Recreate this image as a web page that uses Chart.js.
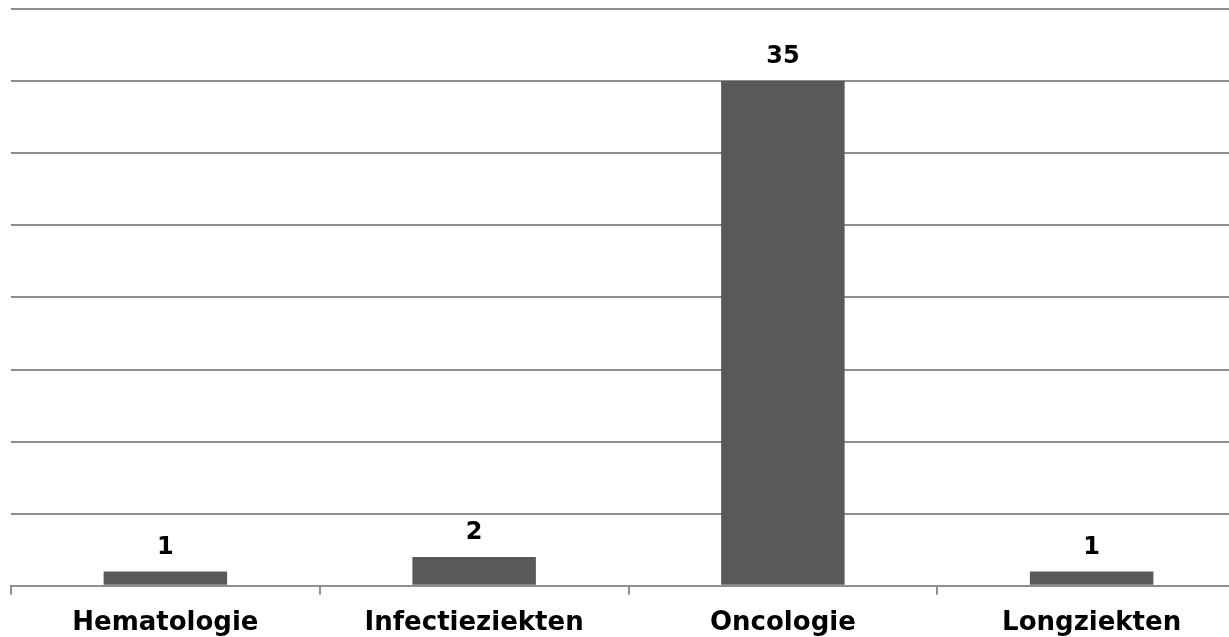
<!DOCTYPE html>
<html>
<head>
<meta charset="utf-8">
<script src="https://cdn.jsdelivr.net/npm/chart.js@4.4.0/dist/chart.umd.min.js"></script>
<style>
    html, body { margin: 0; padding: 0; background: #fff; overflow: hidden; }
    #wrap { position: relative; width: 1250px; height: 656px; }
</style>
</head>
<body>
<div id="wrap"><canvas id="c"></canvas></div>
<script>
// ===== Afdelingen: aantal per specialisme =====
const categories = ['Hematologie', 'Infectieziekten', 'Oncologie', 'Longziekten'];
const counts = [1, 2, 35, 1];
const yMax = 40;
const yStep = 5;

const GRID = '#8e8e8e';
const BAR = '#595959';
const FONT = '"DejaVu Sans", Verdana, sans-serif';

// value labels above each bar
const valueLabels = {
    id: 'valueLabels',
    afterDatasetsDraw(chart) {
        const ctx = chart.ctx;
        const meta = chart.getDatasetMeta(0);
        ctx.save();
        ctx.font = 'bold 24px ' + FONT;
        ctx.fillStyle = '#000';
        ctx.textAlign = 'center';
        ctx.textBaseline = 'bottom';
        meta.data.forEach((bar, i) => {
            ctx.fillText(String(counts[i]), bar.x, bar.y - 12);
        });
        ctx.restore();
    }
};

new Chart(document.getElementById('c'), {
    type: 'bar',
    data: {
        labels: categories,
        datasets: [{ data: counts, backgroundColor: BAR, borderWidth: 0, categoryPercentage: 1, barPercentage: 0.4 }]
    },
    options: {
        responsive: true, maintainAspectRatio: false, animation: false,
        layout: { padding: { left: 11, right: 4, top: 9, bottom: 4 } },
        plugins: { legend: { display: false }, tooltip: { enabled: false } },
        scales: {
            x: {
                grid: { offset: true, drawOnChartArea: false, color: GRID, lineWidth: 2, tickLength: 9 },
                border: { color: GRID, width: 2 },
                ticks: { color: '#000', font: { family: FONT, size: 26, weight: 'bold' }, padding: 13, maxRotation: 0 }
            },
            y: {
                min: 0, max: yMax,
                grid: { color: GRID, lineWidth: 2, drawTicks: false },
                border: { display: false },
                ticks: { display: false, stepSize: yStep }
            }
        }
    },
    plugins: [valueLabels]
});
</script>
</body>
</html>
